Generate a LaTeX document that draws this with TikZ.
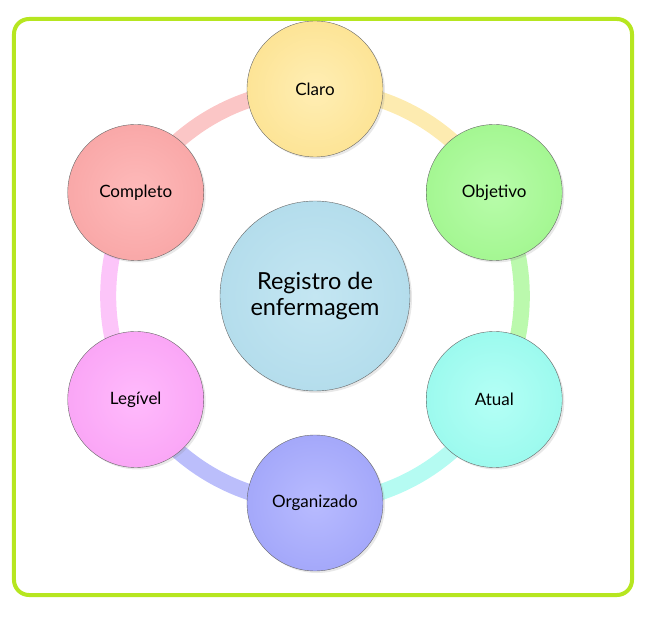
\documentclass[tikz,border=0pt]{standalone}
\usepackage{fontspec}
\setmainfont{Lato}
\usetikzlibrary{shadows,backgrounds}
\definecolor{limeborder}{RGB}{182,230,32}
\definecolor{claroin}{RGB}{255,238,180}
\definecolor{claroout}{RGB}{253,228,150}
\definecolor{objin}{RGB}{184,252,170}
\definecolor{objout}{RGB}{164,247,146}
\definecolor{atualin}{RGB}{180,255,246}
\definecolor{atualout}{RGB}{156,250,238}
\definecolor{orgin}{RGB}{184,187,255}
\definecolor{orgout}{RGB}{164,168,250}
\definecolor{legin}{RGB}{255,186,252}
\definecolor{legout}{RGB}{250,166,246}
\definecolor{compin}{RGB}{254,186,186}
\definecolor{compout}{RGB}{249,168,168}
\definecolor{hubin}{RGB}{196,230,242}
\definecolor{hubout}{RGB}{180,221,236}
\begin{document}
\begin{tikzpicture}[x=1pt,y=1pt]
\def\ringr{207pt}
\tikzstyle{petal} = [circle,draw=gray!80!black,line width=0.4pt,minimum size=136pt,inner sep=0pt,font=\fontsize{17}{20}\selectfont,drop shadow={opacity=0.18,shadow xshift=2pt,shadow yshift=-2pt}]
\tikzstyle{hub} = [petal,minimum size=190pt,align=center,font=\fontsize{23.5}{26}\selectfont]
\tikzstyle{band} = [line width=16pt]
  %frame
  \useasboundingbox (-315,-322) rectangle (352,296);
  \draw[limeborder,line width=4pt,rounded corners=15pt] (-301,-299) rectangle (317,277);
  %hub
  \node[hub,inner color=hubin,outer color=hubout] (registro) at (0,0) {Registro de\\enfermagem};
  %petals
  \node[petal,inner color=claroin,outer color=claroout] (claro) at (90:\ringr) {Claro};
  \node[petal,inner color=objin,outer color=objout] (objetivo) at (30:\ringr) {Objetivo};
  \node[petal,inner color=atualin,outer color=atualout] (atual) at (-30:\ringr) {Atual};
  \node[petal,inner color=orgin,outer color=orgout] (organizado) at (-90:\ringr) {Organizado};
  \node[petal,inner color=legin,outer color=legout] (legivel) at (210:\ringr) {Legível};
  \node[petal,inner color=compin,outer color=compout] (completo) at (150:\ringr) {Completo};
  %ring
  \begin{scope}[on background layer]
    \draw[band,claroout!75!white] (claro.center) to[bend left=30,looseness=0.91] (objetivo.center);
    \draw[band,objout!75!white] (objetivo.center) to[bend left=30,looseness=0.91] (atual.center);
    \draw[band,atualout!75!white] (atual.center) to[bend left=30,looseness=0.91] (organizado.center);
    \draw[band,orgout!75!white] (organizado.center) to[bend left=30,looseness=0.91] (legivel.center);
    \draw[band,legout!65!white] (legivel.center) to[bend left=30,looseness=0.91] (completo.center);
    \draw[band,compout!65!white] (completo.center) to[bend left=30,looseness=0.91] (claro.center);
  \end{scope}
\end{tikzpicture}
\end{document}
